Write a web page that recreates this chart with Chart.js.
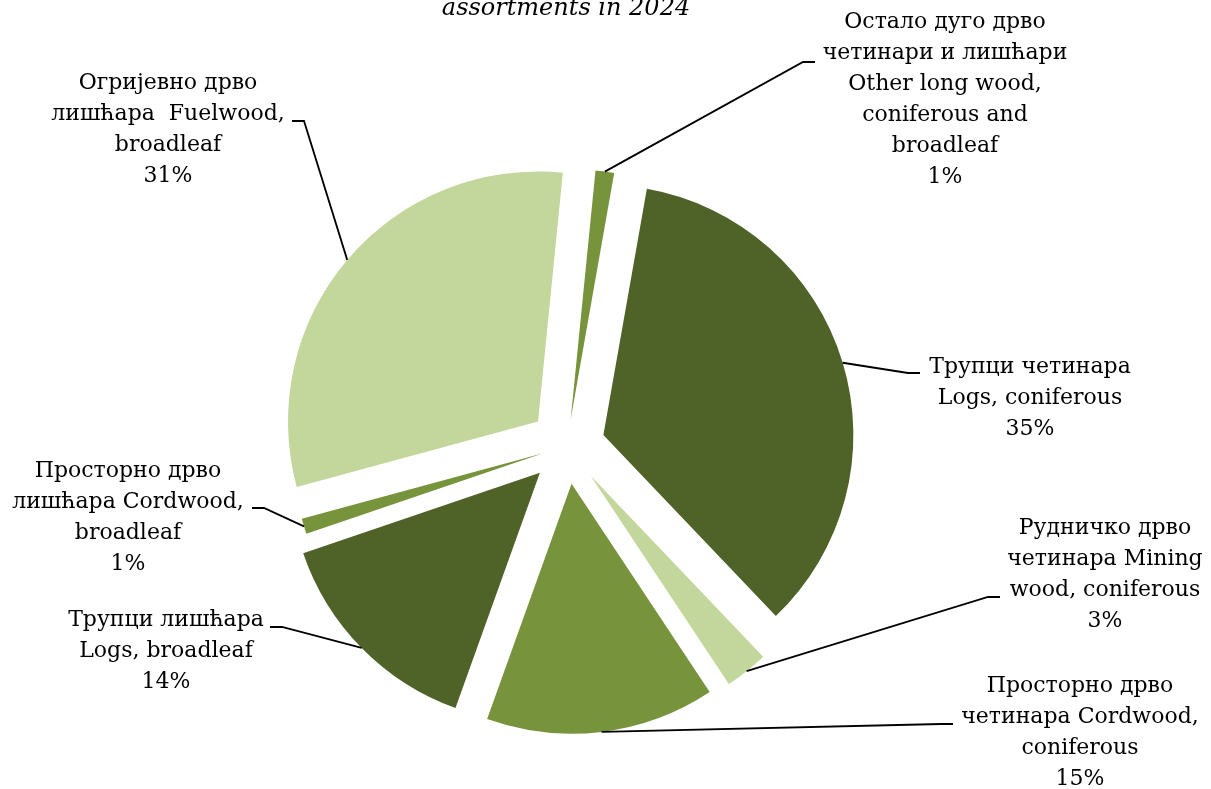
<!DOCTYPE html>
<html>
<head>
<meta charset="utf-8">
<script src="https://cdn.jsdelivr.net/npm/chart.js@4/dist/chart.umd.min.js"></script>
<style>
  html, body { margin: 0; padding: 0; background: #fff; }
  #wrap { width: 1211px; height: 789px; position: relative; }
</style>
</head>
<body>
<div id="wrap"><canvas id="pie" width="1211" height="789"></canvas></div>
<script>
// ---- data ----
const labelsSr = ['Остало дуго дрво четинари и лишћари', 'Трупци четинара', 'Рудничко дрво четинара',
  'Просторно дрво четинара', 'Трупци лишћара', 'Просторно дрво лишћара', 'Огријевно дрво лишћара'];
const labelsEn = ['Other long wood, coniferous and broadleaf', 'Logs, coniferous', 'Mining wood, coniferous',
  'Cordwood, coniferous', 'Logs, broadleaf', 'Cordwood, broadleaf', 'Fuelwood, broadleaf'];
const shares = [1.2, 35.1, 2.8, 14.8, 14.3, 1.0, 30.8];

// label text as it is wrapped in the picture
const labelLines = [
  ['Остало дуго дрво', 'четинари и лишћари', 'Other long wood,', 'coniferous and', 'broadleaf'],
  ['Трупци четинара', 'Logs, coniferous'],
  ['Рудничко дрво', 'четинара Mining', 'wood, coniferous'],
  ['Просторно дрво', 'четинара Cordwood,', 'coniferous'],
  ['Трупци лишћара', 'Logs, broadleaf'],
  ['Просторно дрво', 'лишћара Cordwood,', 'broadleaf'],
  ['Огријевно дрво', 'лишћара  Fuelwood,', 'broadleaf']
];

// ---- styles / layout ----
const LIGHT = '#C3D69B', MID = '#77933C', DARK = '#4F6228';
const sliceColors = [MID, DARK, LIGHT, MID, DARK, MID, LIGHT];
const explode = [27, 38, 38, 38, 38, 25, 38];
const FONT = '22px "DejaVu Serif"';
const LINE_H = 31;
// text centre x, first line centre y, leader end (next to text), side of the text (-1 right of leader end... +1 left)
const labelBox = [
  { cx: 945, y: 22, ex: 815, ey: 62, side: -1 },
  { cx: 1030, y: 367, ex: 920, ey: 373, side: -1 },
  { cx: 1105, y: 528, ex: 1000, ey: 597, side: -1 },
  { cx: 1080, y: 686, ex: 953, ey: 724, side: -1 },
  { cx: 166, y: 620, ex: 270, ey: 627, side: 1 },
  { cx: 128, y: 471, ex: 252, ey: 508, side: 1 },
  { cx: 168, y: 83, ex: 292, ey: 121, side: 1 }
];

// shift every slice out along its bisector, without the radius growth of the built-in offset
const ArcEl = Chart.ArcElement || Chart.registry.getElement('arc');
const baseArcDraw = ArcEl.prototype.draw;
ArcEl.prototype.draw = function (ctx) {
  const mid = (this.startAngle + this.endAngle) / 2;
  const d = explode[this.$context ? this.$context.dataIndex : 0] || 0;
  ctx.save();
  ctx.translate(Math.cos(mid) * d, Math.sin(mid) * d);
  baseArcDraw.call(this, ctx);
  ctx.restore();
};

const pieLabels = {
  id: 'pieLabels',
  afterDatasetsDraw(chart) {
    const ctx = chart.ctx;
    const arcs = chart.getDatasetMeta(0).data;
    ctx.save();
    // title (its first line runs off the top of the picture)
    ctx.font = 'italic 24px "DejaVu Serif"';
    ctx.fillStyle = '#000';
    ctx.textAlign = 'center';
    ctx.textBaseline = 'alphabetic';
    ctx.fillText('assortments in 2024', 566, 15);

    ctx.font = FONT;
    ctx.textBaseline = 'middle';
    arcs.forEach((arc, i) => {
      const p = arc.getProps(['x', 'y', 'startAngle', 'endAngle', 'outerRadius'], true);
      const mid = (p.startAngle + p.endAngle) / 2;
      const r = explode[i] + p.outerRadius;
      const sx = p.x + Math.cos(mid) * r;
      const sy = p.y + Math.sin(mid) * r;
      const b = labelBox[i];
      const elbowX = b.ex + b.side * 12;
      ctx.strokeStyle = '#000';
      ctx.lineWidth = 1.8;
      ctx.beginPath();
      ctx.moveTo(sx, sy);
      ctx.lineTo(elbowX, b.ey);
      ctx.lineTo(b.ex, b.ey);
      ctx.stroke();

      const lines = labelLines[i].concat([Math.round(shares[i]) + '%']);
      ctx.fillStyle = '#000';
      lines.forEach((t, k) => ctx.fillText(t, b.cx, b.y + k * LINE_H));
    });
    ctx.restore();
  }
};

new Chart(document.getElementById('pie'), {
  type: 'pie',
  data: {
    labels: labelsSr.map((s, i) => s + ' ' + labelsEn[i]),
    datasets: [{
      data: shares,
      backgroundColor: sliceColors,
      borderWidth: 0,
      offset: 0,
      hoverOffset: 0
    }]
  },
  options: {
    responsive: false,
    animation: false,
    events: [],
    rotation: 5.7,
    radius: 250,
    layout: { padding: { left: 0, right: 77, top: 103, bottom: 0 } },
    plugins: { legend: { display: false }, title: { display: false }, tooltip: { enabled: false } }
  },
  plugins: [pieLabels]
});
</script>
</body>
</html>
